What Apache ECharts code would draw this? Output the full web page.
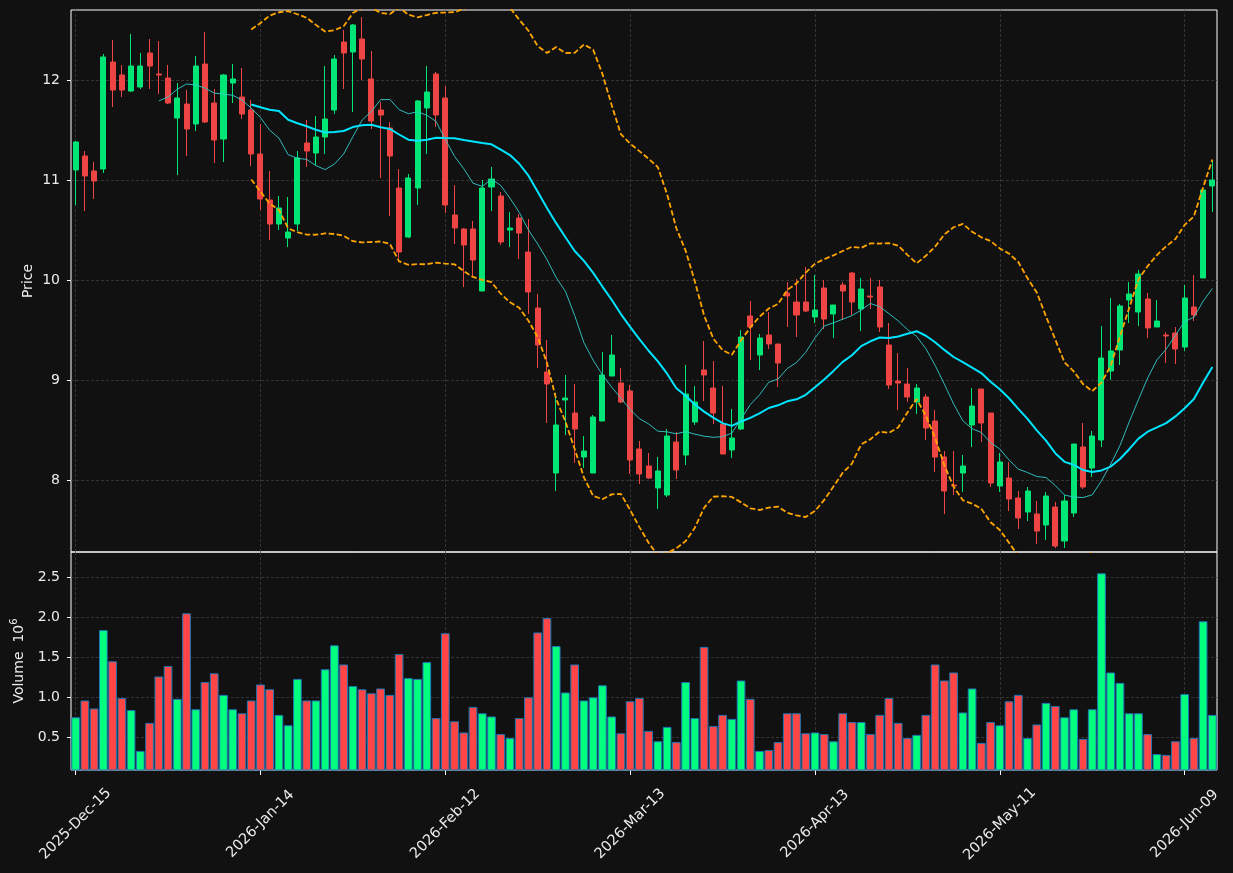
<!DOCTYPE html>
<html>
<head>
<meta charset="utf-8">
<script src="https://cdn.jsdelivr.net/npm/echarts@6/dist/echarts.min.js"></script>
<style>
  html, body { margin: 0; padding: 0; background: #111111; }
  #chart { width: 1233px; height: 873px; }
</style>
</head>
<body>
<div id="chart"></div>
<script>
// trading calendar: weekdays from the first session, minus exchange holidays
const firstDay = '2025-12-15';
const holidays = ['2025-12-25', '2026-01-01', '2026-01-19', '2026-02-16', '2026-04-03', '2026-05-25'];
const monthNames = ['Jan', 'Feb', 'Mar', 'Apr', 'May', 'Jun', 'Jul', 'Aug', 'Sep', 'Oct', 'Nov', 'Dec'];

const openP = [11.10, 11.24, 11.09, 11.11, 12.18, 12.05, 11.89, 11.93, 12.27, 12.06,
  12.02, 11.62, 11.76, 11.56, 12.16, 11.77, 11.41, 11.97, 11.83, 11.70,
  11.26, 10.80, 10.56, 10.42, 10.56, 11.37, 11.27, 11.43, 11.70, 12.38,
  12.28, 12.41, 12.01, 11.70, 11.52, 10.92, 10.43, 10.92, 11.72, 12.06,
  11.82, 10.65, 10.51, 10.51, 9.89, 10.93, 10.84, 10.50, 10.62, 10.28,
  9.72, 9.08, 8.07, 8.80, 8.67, 8.23, 8.07, 8.59, 9.04, 8.97,
  8.89, 8.31, 8.14, 7.92, 7.85, 8.38, 8.25, 8.58, 9.10, 8.92,
  8.56, 8.30, 8.51, 9.64, 9.25, 9.45, 9.36, 9.87, 9.78, 9.78,
  9.63, 9.92, 9.66, 9.95, 10.07, 9.71, 9.84, 9.93, 9.35, 8.99,
  8.96, 8.78, 8.83, 8.59, 8.23, 7.95, 8.07, 8.55, 8.91, 8.67,
  7.94, 8.02, 7.82, 7.68, 7.66, 7.55, 7.73, 7.39, 7.67, 8.33,
  8.12, 8.40, 9.09, 9.30, 9.80, 9.68, 9.81, 9.53, 9.45, 9.47,
  9.33, 9.73, 10.02, 10.94];

const closeP = [11.38, 11.04, 10.99, 12.23, 11.90, 11.90, 12.14, 12.14, 12.14, 12.05,
  11.77, 11.82, 11.51, 12.14, 11.58, 11.40, 12.05, 12.01, 11.66, 11.26,
  10.81, 10.56, 10.72, 10.48, 11.22, 11.29, 11.43, 11.61, 12.21, 12.27,
  12.55, 12.21, 11.59, 11.65, 11.24, 10.28, 11.02, 11.79, 11.88, 11.65,
  10.75, 10.52, 10.35, 10.20, 10.92, 11.01, 10.38, 10.52, 10.47, 9.88,
  9.35, 8.96, 8.55, 8.82, 8.51, 8.29, 8.63, 9.05, 9.25, 8.78,
  8.20, 8.06, 8.02, 8.09, 8.44, 8.10, 8.86, 8.78, 9.05, 8.67,
  8.26, 8.42, 9.43, 9.53, 9.42, 9.36, 9.17, 9.84, 9.65, 9.69,
  9.70, 9.61, 9.75, 9.89, 9.78, 9.91, 9.83, 9.53, 8.95, 8.97,
  8.83, 8.92, 8.52, 8.23, 7.89, 7.94, 8.14, 8.74, 8.57, 7.97,
  8.18, 7.81, 7.62, 7.89, 7.49, 7.84, 7.34, 7.79, 8.36, 7.93,
  8.44, 9.22, 9.29, 9.74, 9.86, 10.06, 9.52, 9.59, 9.44, 9.31,
  9.82, 9.65, 10.90, 11.00];

const lowP = [10.75, 10.69, 10.81, 11.07, 11.73, 11.83, 11.88, 11.91, 11.91, 11.86,
  11.76, 11.05, 11.24, 11.49, 11.57, 11.17, 11.18, 11.77, 11.61, 11.14,
  10.70, 10.40, 10.50, 10.33, 10.49, 11.13, 11.15, 11.26, 11.66, 11.91,
  11.68, 12.00, 11.51, 11.02, 10.64, 10.22, 10.42, 10.75, 11.26, 11.53,
  10.67, 10.36, 9.93, 10.04, 9.89, 10.69, 10.35, 10.33, 10.21, 9.66,
  9.12, 8.57, 7.89, 8.45, 8.17, 8.12, 8.07, 8.59, 9.04, 8.77,
  8.06, 7.96, 8.01, 7.71, 7.83, 8.01, 8.15, 8.55, 8.79, 8.56,
  8.26, 8.22, 8.50, 9.20, 9.10, 9.31, 8.93, 9.53, 9.43, 9.68,
  9.57, 9.51, 9.42, 9.60, 9.65, 9.49, 9.71, 9.48, 8.91, 8.70,
  8.78, 8.66, 8.40, 8.08, 7.66, 7.85, 7.88, 8.33, 8.38, 7.93,
  7.88, 7.69, 7.51, 7.59, 7.36, 7.40, 7.32, 7.32, 7.63, 7.91,
  8.03, 8.33, 9.00, 9.15, 9.57, 9.54, 9.42, 9.53, 9.17, 9.16,
  9.29, 9.59, 10.02, 10.68];

const highP = [11.39, 11.29, 11.18, 12.26, 12.40, 12.15, 12.46, 12.27, 12.41, 12.39,
  12.15, 11.97, 11.90, 12.24, 12.48, 11.91, 12.06, 12.16, 12.12, 11.80,
  11.56, 11.09, 10.84, 10.83, 11.29, 11.60, 11.64, 12.14, 12.25, 12.50,
  12.56, 12.63, 12.29, 11.78, 11.58, 11.11, 11.06, 11.80, 12.14, 12.08,
  11.94, 10.95, 10.52, 10.59, 11.00, 11.13, 10.88, 10.68, 10.66, 10.61,
  9.86, 9.40, 8.87, 9.05, 8.96, 8.44, 8.65, 9.28, 9.45, 9.12,
  8.95, 8.39, 8.27, 8.23, 8.51, 8.48, 9.15, 8.94, 9.39, 9.19,
  8.94, 8.71, 9.50, 9.79, 9.46, 9.68, 9.36, 9.98, 10.01, 10.13,
  10.05, 10.00, 9.75, 9.98, 10.08, 10.02, 10.02, 10.00, 9.57, 9.27,
  9.12, 8.96, 8.86, 8.70, 8.29, 8.29, 8.25, 8.92, 8.91, 8.67,
  8.27, 8.18, 7.89, 7.93, 7.79, 7.88, 7.78, 7.85, 8.36, 8.57,
  8.49, 9.54, 9.82, 9.76, 9.98, 10.10, 9.87, 9.80, 9.48, 9.53,
  9.95, 10.05, 10.90, 11.19];

// volume, in millions of shares
const volumeM = [0.75, 0.96, 0.86, 1.84, 1.45, 0.99, 0.84, 0.33, 0.68, 1.26,
  1.39, 0.98, 2.05, 0.85, 1.19, 1.30, 1.03, 0.85, 0.80, 0.96,
  1.16, 1.10, 0.78, 0.65, 1.23, 0.96, 0.96, 1.35, 1.65, 1.41,
  1.14, 1.10, 1.05, 1.11, 1.03, 1.54, 1.24, 1.23, 1.44, 0.74,
  1.80, 0.70, 0.56, 0.88, 0.80, 0.76, 0.54, 0.49, 0.74, 1.00,
  1.81, 1.99, 1.64, 1.06, 1.41, 0.96, 1.00, 1.15, 0.76, 0.55,
  0.95, 0.99, 0.58, 0.45, 0.63, 0.44, 1.19, 0.74, 1.63, 0.64,
  0.78, 0.73, 1.21, 0.98, 0.33, 0.34, 0.44, 0.80, 0.80, 0.55,
  0.56, 0.54, 0.45, 0.80, 0.69, 0.69, 0.54, 0.78, 0.99, 0.68,
  0.49, 0.53, 0.78, 1.41, 1.21, 1.31, 0.81, 1.11, 0.43, 0.69,
  0.65, 0.95, 1.03, 0.49, 0.66, 0.93, 0.89, 0.75, 0.85, 0.48,
  0.85, 2.55, 1.31, 1.18, 0.80, 0.80, 0.54, 0.29, 0.28, 0.45,
  1.04, 0.49, 1.95, 0.78];

const priceTicks = [8, 9, 10, 11, 12];
const volumeTicks = [0.5, 1.0, 1.5, 2.0, 2.5];
const labelEvery = 20;

const UP = '#00e676', DOWN = '#ef4444';
const VOL_UP = '#00ff7f', VOL_DOWN = '#ff4545';
const TEXT = '#ececec';
const GRIDLINE = { color: '#3d3d3d', width: 0.8, type: [3, 2] };
const FONT = 'DejaVu Sans';

function tradingDays(start, n) {
  const out = [];
  const d = new Date(start + 'T00:00:00Z');
  while (out.length < n) {
    const iso = d.toISOString().slice(0, 10);
    const wd = d.getUTCDay();
    if (wd !== 0 && wd !== 6 && holidays.indexOf(iso) < 0) {
      out.push(d.getUTCFullYear() + '-' + monthNames[d.getUTCMonth()] + '-' + String(d.getUTCDate()).padStart(2, '0'));
    }
    d.setUTCDate(d.getUTCDate() + 1);
  }
  return out;
}

// rolling indicators on the close
function sma(src, n) {
  return src.map((_, i) => {
    if (i < n - 1) return '-';
    let s = 0;
    for (let k = i - n + 1; k <= i; k++) s += src[k];
    return s / n;
  });
}
function bollinger(src, n, k, sign) {
  const mid = sma(src, n);
  return src.map((_, i) => {
    if (i < n - 1) return '-';
    let v = 0;
    for (let j = i - n + 1; j <= i; j++) v += (src[j] - mid[i]) * (src[j] - mid[i]);
    return mid[i] + sign * k * Math.sqrt(v / n);
  });
}

const dates = tradingDays(firstDay, closeP.length);
const isUp = closeP.map((c, i) => c >= openP[i]);
const ohlc = openP.map((o, i) => [o, closeP[i], lowP[i], highP[i]]);
const ma10 = sma(closeP, 10);
const ma20 = sma(closeP, 20);
const bbUpper = bollinger(closeP, 20, 2, 1);
const bbLower = bollinger(closeP, 20, 2, -1);
const showTick = (idx) => idx % labelEvery === 0;
const vLines = dates.filter((_, i) => showTick(i)).map(d => ({ xAxis: d }));

// vertical dashed grid at the labelled dates, kept behind the marks
function gridMarks(xi) {
  return {
    type: 'line', xAxisIndex: xi, yAxisIndex: xi, z: 0, silent: true,
    data: dates.map(() => '-'),
    markLine: {
      z: 0, silent: true, symbol: ['none', 'none'], label: { show: false },
      lineStyle: GRIDLINE, animation: false, data: vLines
    }
  };
}

const chart = echarts.init(document.getElementById('chart'));

chart.setOption({
  backgroundColor: '#111111',
  animation: false,
  textStyle: { fontFamily: FONT },
  grid: [
    { left: 71, right: 16, top: 10, height: 542, show: true, borderColor: '#ffffff', borderWidth: 1, backgroundColor: 'transparent' },
    { left: 71, right: 16, top: 552, height: 218, show: true, borderColor: '#ffffff', borderWidth: 1, backgroundColor: 'transparent' }
  ],
  xAxis: [
    {
      type: 'category', gridIndex: 0, data: dates, boundaryGap: true,
      axisLine: { show: false }, axisTick: { show: false }, axisLabel: { show: false }, splitLine: { show: false }
    },
    {
      type: 'category', gridIndex: 1, data: dates, boundaryGap: true,
      axisLine: { show: false },
      axisTick: { show: true, alignWithLabel: true, interval: showTick, length: 5, lineStyle: { color: '#ffffff', width: 1 } },
      axisLabel: {
        interval: showTick, rotate: 45, align: 'center', verticalAlign: 'middle', margin: 54,
        color: TEXT, fontSize: 14.5, fontFamily: FONT
      },
      splitLine: { show: false }
    }
  ],
  yAxis: [
    {
      type: 'value', gridIndex: 0, min: 7.28, max: 12.70, scale: true,
      name: 'Price', nameLocation: 'middle', nameRotate: 90, nameGap: 36, nameMoveOverlap: false,
      nameTextStyle: { color: TEXT, fontSize: 14, fontFamily: FONT },
      axisLine: { show: false },
      axisTick: { show: true, length: 4, customValues: priceTicks, lineStyle: { color: '#ffffff' } },
      axisLabel: { customValues: priceTicks, color: TEXT, fontSize: 14, margin: 11, fontFamily: FONT },
      splitLine: { show: true, lineStyle: GRIDLINE }
    },
    {
      type: 'value', gridIndex: 1, min: 0.091, max: 2.816,
      name: '{v|Volume  10}{s|6}', nameLocation: 'middle', nameRotate: 90, nameGap: 42, nameMoveOverlap: false,
      nameTextStyle: {
        color: TEXT, fontSize: 14, fontFamily: FONT,
        rich: {
          v: { color: TEXT, fontSize: 14, fontFamily: FONT, lineHeight: 20 },
          s: { color: TEXT, fontSize: 10, fontFamily: FONT, verticalAlign: 'top', lineHeight: 20 }
        }
      },
      axisLine: { show: false },
      axisTick: { show: true, length: 4, customValues: volumeTicks, lineStyle: { color: '#ffffff' } },
      axisLabel: {
        customValues: volumeTicks, color: TEXT, fontSize: 14, margin: 11, fontFamily: FONT,
        formatter: v => v.toFixed(1)
      },
      splitLine: { show: true, lineStyle: GRIDLINE }
    }
  ],
  series: [
    gridMarks(0),
    gridMarks(1),
    {
      name: 'candles', type: 'candlestick', xAxisIndex: 0, yAxisIndex: 0, z: 3,
      data: ohlc, barWidth: '60%',
      itemStyle: { color: UP, color0: DOWN, borderColor: UP, borderColor0: DOWN, borderWidth: 1 }
    },
    {
      name: 'bb upper', type: 'line', xAxisIndex: 0, yAxisIndex: 0, z: 4,
      data: bbUpper, showSymbol: false, clip: true,
      lineStyle: { color: '#ffa500', width: 1.8, type: [5.5, 2.5] }
    },
    {
      name: 'bb lower', type: 'line', xAxisIndex: 0, yAxisIndex: 0, z: 4,
      data: bbLower, showSymbol: false, clip: true,
      lineStyle: { color: '#ffa500', width: 1.8, type: [5.5, 2.5] }
    },
    {
      name: 'ma20', type: 'line', xAxisIndex: 0, yAxisIndex: 0, z: 5,
      data: ma20, showSymbol: false, clip: true,
      lineStyle: { color: '#00e5ff', width: 2 }
    },
    {
      name: 'ma10', type: 'line', xAxisIndex: 0, yAxisIndex: 0, z: 5,
      data: ma10, showSymbol: false, clip: true,
      lineStyle: { color: '#33cccc', width: 1, opacity: 0.9 }
    },
    {
      name: 'volume', type: 'bar', xAxisIndex: 1, yAxisIndex: 1, z: 3,
      barCategoryGap: '6%',
      data: volumeM.map((v, i) => ({ value: v, itemStyle: { color: isUp[i] ? VOL_UP : VOL_DOWN } })),
      itemStyle: { borderColor: '#1f77b4', borderWidth: 1 }
    }
  ]
});
</script>
</body>
</html>
